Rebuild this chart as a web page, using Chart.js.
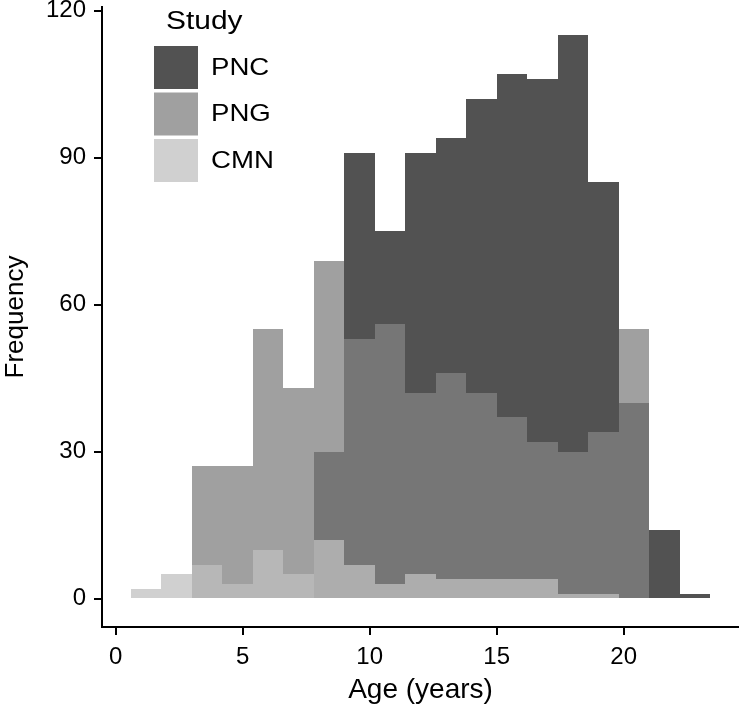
<!DOCTYPE html>
<html>
<head>
<meta charset="utf-8">
<script src="https://cdn.jsdelivr.net/npm/chart.js@4"></script>
<style>
  html, body { margin: 0; padding: 0; background: #fff; }
  #wrap { width: 739px; height: 713px; }
</style>
</head>
<body>
<div id="wrap"><canvas id="ageChart" width="739" height="713"></canvas></div>
<script>
// ---------------------------------------------------------------------
// Data: histogram of age by study (bins 1.2 years wide, from 0.6 to 23.4)
// ---------------------------------------------------------------------
const binCentres = [1.2, 2.4, 3.6, 4.8, 6.0, 7.2, 8.4, 9.6, 10.8, 12.0, 13.2, 14.4, 15.6, 16.8, 18.0, 19.2, 20.4, 21.6, 22.8];
const pncCounts = [null, null, null, null, null, null, 30, 91, 75, 91, 94, 102, 107, 106, 115, 85, 40, 14, 1];
const pngCounts = [null, null, 27, 27, 55, 43, 69, 53, 56, 42, 46, 42, 37, 32, 30, 34, 55, null, null];
const cmnCounts = [2, 5, 7, 3, 10, 5, 12, 7, 3, 5, 4, 4, 4, 4, 1, 1, null, null, null];
const studyNames = ["PNC", "PNG", "CMN"];
const xTicks = [0, 5, 10, 15, 20];
const yTicks = [0, 30, 60, 90, 120];

const FONT = '"Liberation Sans", Arial, Helvetica, sans-serif';

function toPoints(counts) {
  return counts.map((v, i) => ({ x: binCentres[i], y: v }));
}

// snap bar edges to whole pixels so neighbouring bins meet without seams
const snapBars = {
  id: "snapBars",
  beforeDatasetsDraw(chart) {
    chart.getSortedVisibleDatasetMetas().forEach(meta => {
      meta.data.forEach(bar => {
        const l = Math.round(bar.x - bar.width / 2);
        const r = Math.round(bar.x + bar.width / 2);
        bar.x = (l + r) / 2;
        bar.width = r - l;
        bar.y = Math.round(bar.y);
        bar.base = Math.round(bar.base);
      });
    });
  }
};

// legend drawn inside the plot, top-left (like the ggplot one)
const studyLegend = {
  id: "studyLegend",
  afterDraw(chart) {
    const ctx = chart.ctx;
    const stretch = 1.15;
    ctx.save();
    ctx.textAlign = "left";

    // title
    ctx.save();
    ctx.translate(166, 29);
    ctx.scale(stretch, 1);
    ctx.fillStyle = "#000";
    ctx.textBaseline = "alphabetic";
    ctx.font = "26px " + FONT;
    ctx.fillText("Study", 0, 0);
    ctx.restore();

    studyNames.forEach((name, i) => {
      const ds = chart.data.datasets.find(d => d.label === name);
      const top = 46 + i * 46.5;
      ctx.fillStyle = ds.backgroundColor;
      ctx.fillRect(154, top, 44, 43);

      ctx.save();
      ctx.translate(211, top + 22);
      ctx.scale(stretch, 1);
      ctx.fillStyle = "#000";
      ctx.textBaseline = "middle";
      ctx.font = "24px " + FONT;
      ctx.fillText(name, 0, 0);
      ctx.restore();
    });
    ctx.restore();
  }
};

const barStyle = { grouped: false, barPercentage: 1, categoryPercentage: 1, borderWidth: 0, inflateAmount: 0 };

const ctx = document.getElementById("ageChart");
new Chart(ctx, {
  type: "bar",
  data: {
    datasets: [
      Object.assign({ label: "PNC", data: toPoints(pncCounts), backgroundColor: "#525252", order: 3 }, barStyle),
      Object.assign({ label: "PNG", data: toPoints(pngCounts), backgroundColor: "rgba(130,130,130,0.757)", order: 2 }, barStyle),
      Object.assign({ label: "CMN", data: toPoints(cmnCounts), backgroundColor: "rgba(192,192,192,0.75)", order: 1 }, barStyle)
    ]
  },
  options: {
    responsive: false,
    animation: false,
    devicePixelRatio: 1,
    layout: { padding: { top: 7, right: 0, left: 0, bottom: 0 } },
    plugins: {
      legend: { display: false },
      tooltip: { enabled: false }
    },
    scales: {
      x: {
        type: "linear",
        offset: false,
        min: -0.54,
        max: 24.54,
        afterBuildTicks: (scale) => { scale.ticks = xTicks.map(v => ({ value: v })); },
        afterFit: (scale) => { scale.height = 86; scale.paddingLeft = 0; scale.paddingRight = 0; },
        border: { display: true, color: "#000", width: 2 },
        grid: { offset: false, drawOnChartArea: false, drawTicks: true, tickLength: 8, color: "#000", lineWidth: 2 },
        ticks: { color: "#000", font: { family: FONT, size: 24 }, padding: 8, maxRotation: 0 },
        title: { display: true, text: "Age (years)", color: "#000", font: { family: FONT, size: 28 }, padding: { bottom: 6 } }
      },
      y: {
        min: -5.75,
        max: 120.75,
        afterBuildTicks: (scale) => { scale.ticks = yTicks.map(v => ({ value: v })); },
        afterFit: (scale) => { scale.width = 102; scale.paddingTop = 0; scale.paddingBottom = 0; },
        border: { display: true, color: "#000", width: 2 },
        grid: { drawOnChartArea: false, drawTicks: true, tickLength: 8, color: "#000", lineWidth: 2 },
        ticks: { color: "#000", font: { family: FONT, size: 24 }, padding: 8 },
        title: { display: true, text: "Frequency", color: "#000", font: { family: FONT, size: 26 }, padding: { top: 0 } }
      }
    }
  },
  plugins: [snapBars, studyLegend]
});
</script>
</body>
</html>
